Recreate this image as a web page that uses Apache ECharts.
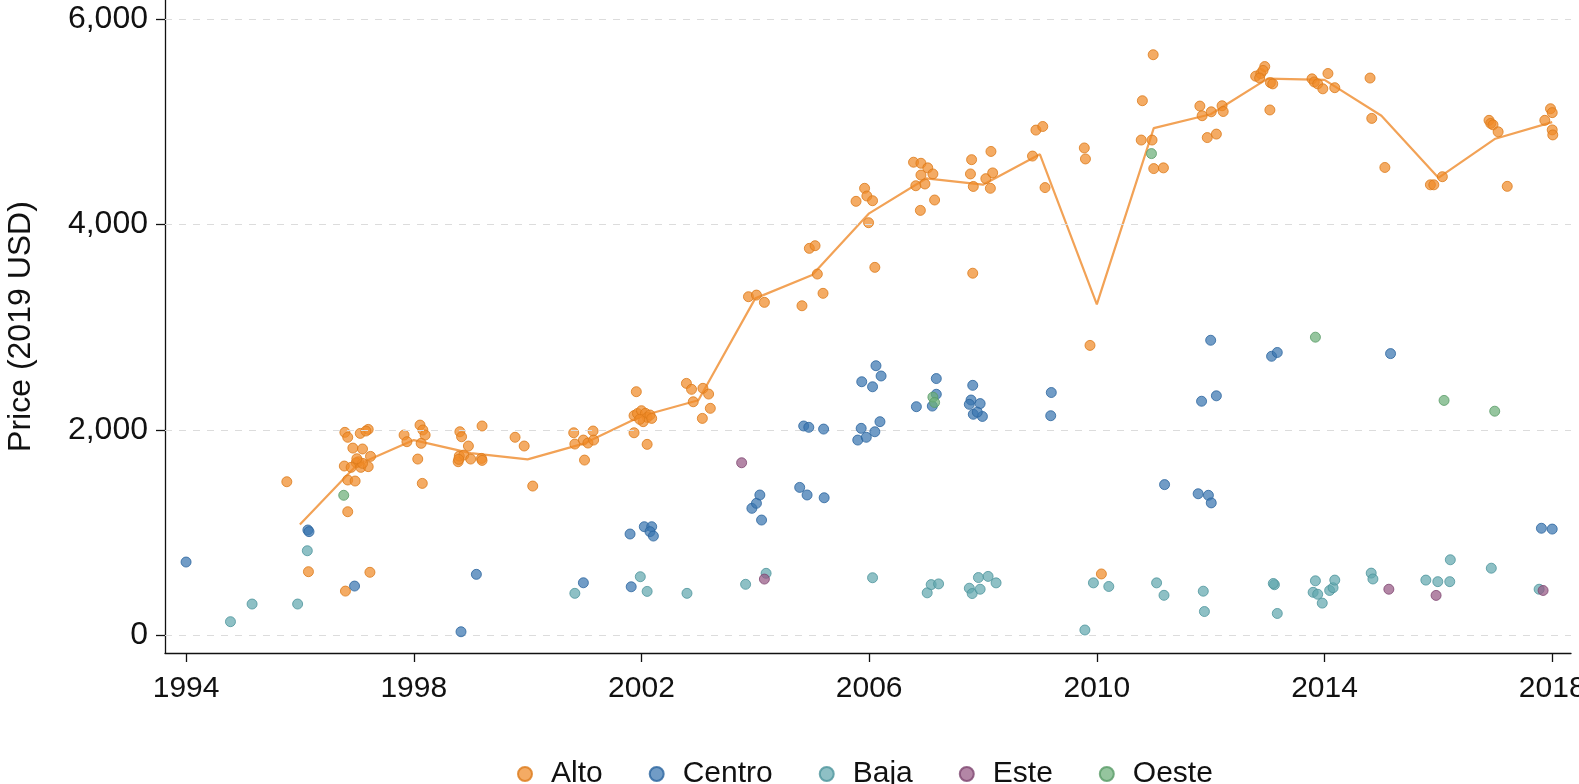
<!DOCTYPE html>
<html>
<head>
<meta charset="utf-8">
<script src="https://cdn.jsdelivr.net/npm/echarts@6/dist/echarts.min.js"></script>
<style>
html,body{margin:0;padding:0;background:#fff;}
#chart{width:1579px;height:784px;}
</style>
</head>
<body>
<div id="chart"></div>
<script>
// ---- data: [year, price (2019 USD)] ----
const alto = [
[1995.77,1496],[1996.15,620],[1996.84,1204],[1996.80,431],[1997.23,614],
[1996.79,1977],[1996.84,1929],[1997.06,1967],[1997.20,2006],[1997.16,1990],
[1996.93,1824],[1997.10,1815],[1997.24,1743],[1997.03,1691],[1996.99,1681],
[1996.78,1649],[1996.90,1636],[1997.07,1636],[1997.20,1643],[1996.84,1513],
[1996.97,1503],[1997.10,1675],[1997.00,1720],
[1997.83,1951],[1997.88,1886],[1998.11,2048],[1998.16,2000],[1998.20,1951],
[1998.13,1870],[1998.07,1717],[1998.15,1480],
[1998.81,1983],[1998.84,1934],[1998.96,1844],[1998.78,1691],[1998.80,1746],
[1998.88,1756],[1999.00,1717],[1999.19,1723],[1999.20,1704],[1998.79,1714],
[1999.20,2039],[1999.78,1929],[1999.94,1844],[2000.09,1454],
[2000.81,1973],[2000.83,1863],[2001.00,1707],[2000.98,1902],[2001.06,1873],
[2001.15,1990],[2001.16,1902],
[2001.91,2373],[2001.87,1973],[2002.10,1860],[2001.87,2140],[2001.93,2160],
[2002.00,2188],[2002.07,2162],[2002.10,2123],[2002.15,2146],[2002.03,2081],
[2001.97,2104],[2002.18,2113],
[2002.79,2454],[2002.88,2396],[2002.91,2275],[2003.08,2406],[2003.18,2350],
[2003.21,2211],[2003.07,2113],
[2003.88,3298],[2004.02,3314],[2004.16,3243],
[2004.82,3210],[2004.95,3769],[2005.05,3795],[2005.09,3519],[2005.19,3331],
[2005.77,4227],[2005.92,4354],[2005.96,4279],[2006.06,4233],[2005.99,4019],[2006.10,3584],
[2006.78,4608],[2006.91,4598],[2007.03,4553],[2007.12,4494],[2006.91,4483],
[2006.82,4379],[2006.98,4396],[2006.90,4139],[2007.15,4240],
[2007.80,4633],[2007.78,4494],[2007.83,4372],[2008.14,4713],[2008.05,4448],
[2008.17,4504],[2008.13,4354],[2007.82,3527],
[2008.93,4921],[2009.05,4956],[2008.87,4668],[2009.09,4361],
[2009.78,4747],[2009.80,4640],[2009.88,2824],[2010.08,598],
[2010.99,5655],[2010.80,5207],[2010.78,4824],[2010.97,4824],[2011.00,4546],[2011.17,4553],
[2011.81,5155],[2011.85,5061],[2012.01,5099],[2012.20,5158],[2012.22,5102],
[2011.94,4848],[2012.10,4882],
[2012.79,5446],[2012.88,5472],[2012.95,5540],[2012.92,5502],[2012.86,5428],
[2013.05,5383],[2013.09,5371],[2013.04,5117],
[2013.78,5420],[2013.82,5390],[2013.88,5371],[2013.97,5323],[2014.06,5472],[2014.18,5334],
[2014.80,5428],[2014.83,5035],[2015.06,4557],
[2015.86,4388],[2015.92,4388],[2016.07,4467],
[2016.89,5016],[2016.92,4986],[2016.96,4972],[2017.05,4904],[2017.21,4373],
[2017.87,5016],[2017.97,5129],[2018.00,5091],[2018.00,4923],[2018.01,4874]
];
const centro = [
[1994.00,714],[1996.14,1026],[1996.16,1010],[1996.96,480],[1998.83,35],[1999.10,594],
[2000.98,512],[2001.80,987],[2001.82,473],[2002.05,1058],[2002.18,1058],[2002.15,1010],[2002.21,967],
[2003.94,1237],[2004.02,1286],[2004.08,1367],[2004.11,1123],
[2004.78,1441],[2004.91,1367],[2005.21,1340],
[2004.85,2039],[2004.94,2026],[2005.20,2009],
[2005.80,1902],[2005.86,2016],[2005.95,1929],[2006.10,1983],[2006.19,2081],
[2005.87,2470],[2006.06,2421],[2006.12,2626],[2006.21,2526],
[2006.83,2227],[2007.18,2501],[2007.18,2348],[2007.11,2233],
[2007.82,2435],[2007.79,2292],[2007.76,2250],[2007.95,2257],[2007.83,2153],[2007.99,2132],[2007.90,2174],
[2009.20,2365],[2009.19,2139],
[2011.19,1468],[2011.78,1379],[2011.96,1364],[2012.01,1290],
[2011.84,2280],[2012.10,2333],[2012.00,2874],
[2013.07,2718],[2013.17,2755],[2015.16,2744],
[2017.81,1043],[2018.00,1035]
];
const baja = [
[1994.78,133],[1995.16,305],[1995.96,305],[1996.13,824],
[2000.83,409],[2001.98,571],[2002.10,428],[2002.80,409],
[2003.83,497],[2004.19,604],[2006.06,561],
[2007.02,414],[2007.09,494],[2007.22,501],[2007.76,459],[2007.81,407],
[2007.92,563],[2007.95,449],[2008.09,574],[2008.23,511],
[2009.79,52],[2009.94,511],[2010.21,476],[2011.05,511],[2011.18,390],
[2011.87,430],[2011.89,232],[2013.12,493],[2013.10,505],[2013.17,213],
[2013.84,531],[2013.80,419],[2013.88,400],[2013.96,314],
[2014.09,437],[2014.15,464],[2014.18,538],[2014.82,606],[2014.85,549],
[2015.78,538],[2015.99,523],[2016.21,736],[2016.20,523],[2016.93,654],[2017.77,449]
];
const este = [
[2003.76,1681],[2004.16,548],[2015.13,449],[2015.96,389],[2017.84,437]
];
const oeste = [
[1996.77,1364],[2007.12,2320],[2007.15,2268],[2010.96,4692],
[2013.84,2904],[2016.10,2288],[2016.99,2183]
];
// yearly mean of Alto (line)
const meanYears = [1996,1997,1998,1999,2000,2001,2002,2003,2004,2005,2006,2007,2008,2009,2010,2011,2012,2013,2014,2015,2016,2017,2018];
const meanValues = [1080,1659,1902,1775,1714,1870,2136,2290,3282,3509,4110,4450,4389,4685,3224,4940,5075,5422,5410,5061,4456,4837,4998];
// ticks
const xTicks = [1994,1998,2002,2006,2010,2014,2018];
const yTicks = [0,2000,4000,6000];
const seriesNames = ['Alto','Centro','Baja','Este','Oeste'];

const FONT = "'Liberation Sans', Arial, 'DejaVu Sans', sans-serif";
const styles = {
  Alto:   {fill:'rgba(240,138,40,0.9)', border:'#dc7a1a'},
  Centro: {fill:'rgba(58,118,176,0.9)', border:'#2c659f'},
  Baja:   {fill:'rgba(98,167,174,0.9)', border:'#4e959c'},
  Este:   {fill:'rgba(150,88,132,0.9)', border:'#7e4670'},
  Oeste:  {fill:'rgba(108,174,120,0.9)', border:'#599b66'}
};
const dataMap = {Alto:alto, Centro:centro, Baja:baja, Este:este, Oeste:oeste};

const chart = echarts.init(document.getElementById('chart'), null, {renderer:'canvas'});

const series = [
  {
    name:'gridlines', type:'line', data:[], z:0, silent:true,
    markLine:{
      silent:true, symbol:['none','none'], label:{show:false}, animation:false,
      lineStyle:{type:[7,7], color:'#dcdcdc', width:1},
      data: yTicks.map(v => ({yAxis:v}))
    }
  },
  {
    name:'Alto mean', type:'line', z:3, symbol:'none', smooth:false,
    data: meanYears.map((y,i)=>[y, meanValues[i]]),
    lineStyle:{color:'#f2a256', width:2.2}
  }
];
seriesNames.forEach((n, i) => {
  series.push({
    name:n, type:'scatter', z: 4 + i,
    symbol:'circle', symbolSize:10,
    data: dataMap[n],
    itemStyle:{color:styles[n].fill, borderColor:styles[n].border, borderWidth:1}
  });
});

chart.setOption({
  animation:false,
  backgroundColor:'#ffffff',
  textStyle:{fontFamily:FONT},
  grid:{left:165, right:8, top:0, bottom:131, containLabel:false, outerBoundsMode:'none'},
  legend:{
    data: seriesNames,
    left:512, top:754,
    icon:'circle', itemWidth:14, itemHeight:14, itemGap:46,
    textStyle:{fontSize:30, color:'#111', fontFamily:FONT, padding:[0,0,0,14]}
  },
  xAxis:{
    type:'value', min:1993.63, max:2018.33,
    axisLine:{show:true, onZero:false, lineStyle:{color:'#111', width:1.3}},
    axisTick:{show:true, length:9, lineStyle:{color:'#111', width:1.3}, customValues:xTicks},
    axisLabel:{fontSize:30, color:'#111', margin:21, customValues:xTicks, formatter:v=>String(v)},
    splitLine:{show:false}
  },
  yAxis:{
    type:'value', min:-172, max:6188,
    name:'Price (2019 USD)', nameLocation:'middle', nameGap:128,
    nameTextStyle:{fontSize:32, color:'#111', fontFamily:FONT},
    axisLine:{show:true, onZero:false, lineStyle:{color:'#111', width:1.3}},
    axisTick:{show:true, length:9, lineStyle:{color:'#111', width:1.3}, customValues:yTicks},
    axisLabel:{fontSize:32, color:'#111', margin:17, customValues:yTicks,
      formatter:v=>Number(v).toLocaleString('en-US')},
    splitLine:{show:false}
  },
  series: series
});
</script>
</body>
</html>
